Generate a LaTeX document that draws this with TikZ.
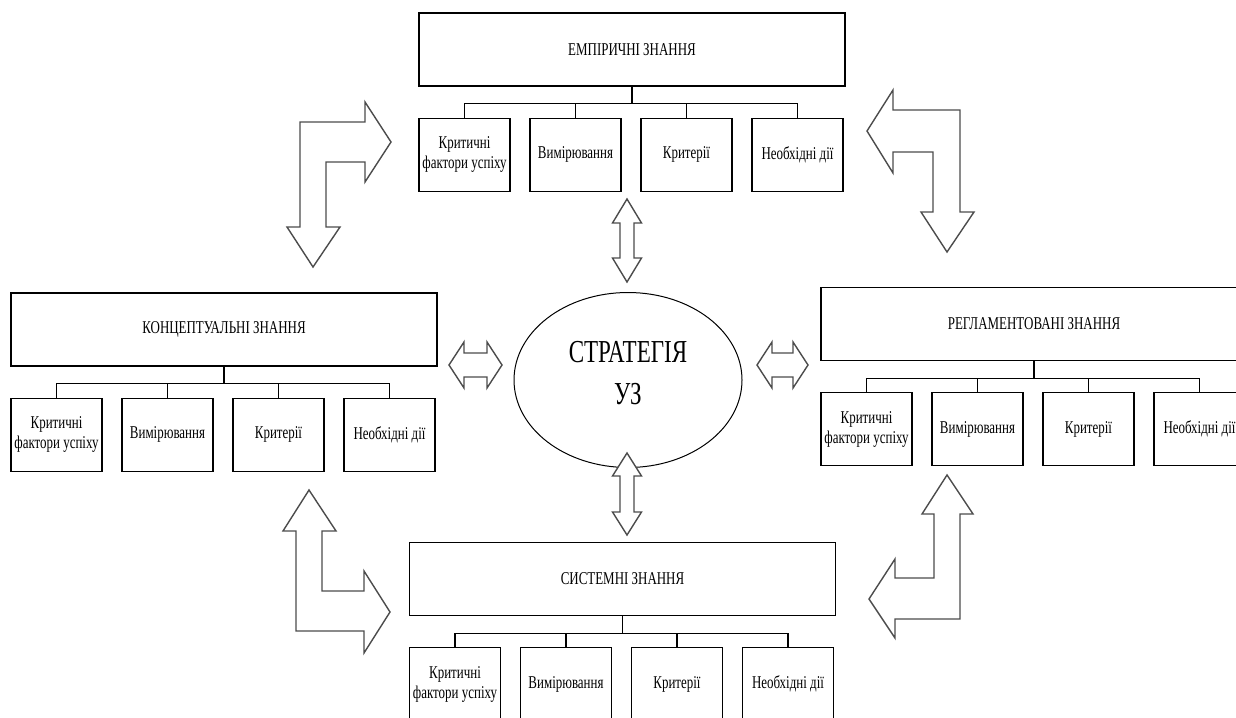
\documentclass[tikz,border=0pt]{standalone}
\usepackage{fontspec}
\setmainfont[FakeStretch=0.72]{Liberation Serif}
\usetikzlibrary{positioning,shapes.geometric}
\tikzset{hdr/.style={draw,line width=1.2pt,minimum width=426pt,minimum height=73pt,inner sep=0pt,font=\fontsize{18}{20}\selectfont}}
\tikzset{item/.style={draw,line width=1.2pt,minimum width=91pt,minimum height=73pt,inner sep=2pt,align=center,font=\fontsize{18}{20}\selectfont}}
\tikzset{bus/.style={line width=1.2pt}}
\tikzset{blk/.style={draw=black!70,line width=1.4pt,line join=miter,fill=white}}
\newcommand\kgroup[3]{%
  \node[hdr] (#1) at (#2) {#3};
  \node[item, below right=31pt and 0pt of #1.south west] (#1a) {Критичні\\фактори успіху};
  \node[item, right=18.8pt of #1a] (#1b) {Вимірювання};
  \node[item, right=18.8pt of #1b] (#1c) {Критерії};
  \node[item, right=18.8pt of #1c] (#1d) {Необхідні дії};
  \foreach \k in {a,b,c,d}
    \draw[bus] (#1.south) -- ++(0,-17pt) -| (#1\k.north);
}

\begin{document}
\begin{tikzpicture}[x=1pt,y=-1pt]
\path[use as bounding box,clip] (0,0) rectangle (1236,717);

\kgroup{emp}{632,49.5}{ЕМПІРИЧНІ ЗНАННЯ}
\kgroup{konc}{224,329.5}{КОНЦЕПТУАЛЬНІ ЗНАННЯ}
\kgroup{regl}{1034,324}{РЕГЛАМЕНТОВАНІ ЗНАННЯ}
\kgroup{syst}{622.5,579}{СИСТЕМНІ ЗНАННЯ}

\node[draw,ellipse,line width=1pt,minimum width=228pt,minimum height=175pt,inner sep=0pt,align=center,font=\fontsize{32}{42}\selectfont] (strat) at (628,380) {СТРАТЕГІЯ\\УЗ\rule[-14pt]{0pt}{0pt}};

% bent arrows
\draw[blk] (300,122) -- (365,122) -- (365,102) -- (391,142) -- (365,182) -- (365,162) -- (326,162) -- (326,227) -- (340,227) -- (313,267) -- (287,227) -- (300,227) -- cycle;
\draw[blk] (960,110) -- (893,110) -- (893,90) -- (867,131) -- (893,173) -- (893,152) -- (933,152) -- (933,212) -- (921,212) -- (947,252) -- (974,212) -- (960,212) -- cycle;
\draw[blk] (296,631) -- (296,531) -- (283,531) -- (309,490) -- (336,531) -- (322,531) -- (322,591) -- (364,591) -- (364,571) -- (390,612) -- (364,653) -- (364,631) -- cycle;
\draw[blk] (960,619) -- (960,514) -- (973,514) -- (947,475) -- (922,514) -- (934,514) -- (934,578) -- (895,578) -- (895,559) -- (869,599) -- (895,638) -- (895,619) -- cycle;

% double arrows
\draw[blk] (627,199) -- (641.5,223) -- (634,223) -- (634,258) -- (641.5,258) -- (627,282) -- (612.5,258) -- (620,258) -- (620,223) -- (612.5,223) -- cycle;
\draw[blk] (627,453) -- (641.5,476) -- (634,476) -- (634,512) -- (641.5,512) -- (627,535) -- (612.5,512) -- (620,512) -- (620,476) -- (612.5,476) -- cycle;
\draw[blk] (449,365) -- (464,342) -- (464,353) -- (487,353) -- (487,342) -- (502,365) -- (487,388) -- (487,377) -- (464,377) -- (464,388) -- cycle;
\draw[blk] (757,365) -- (772,342) -- (772,353) -- (793,353) -- (793,342) -- (808,365) -- (793,388) -- (793,377) -- (772,377) -- (772,388) -- cycle;
\end{tikzpicture}
\end{document}
